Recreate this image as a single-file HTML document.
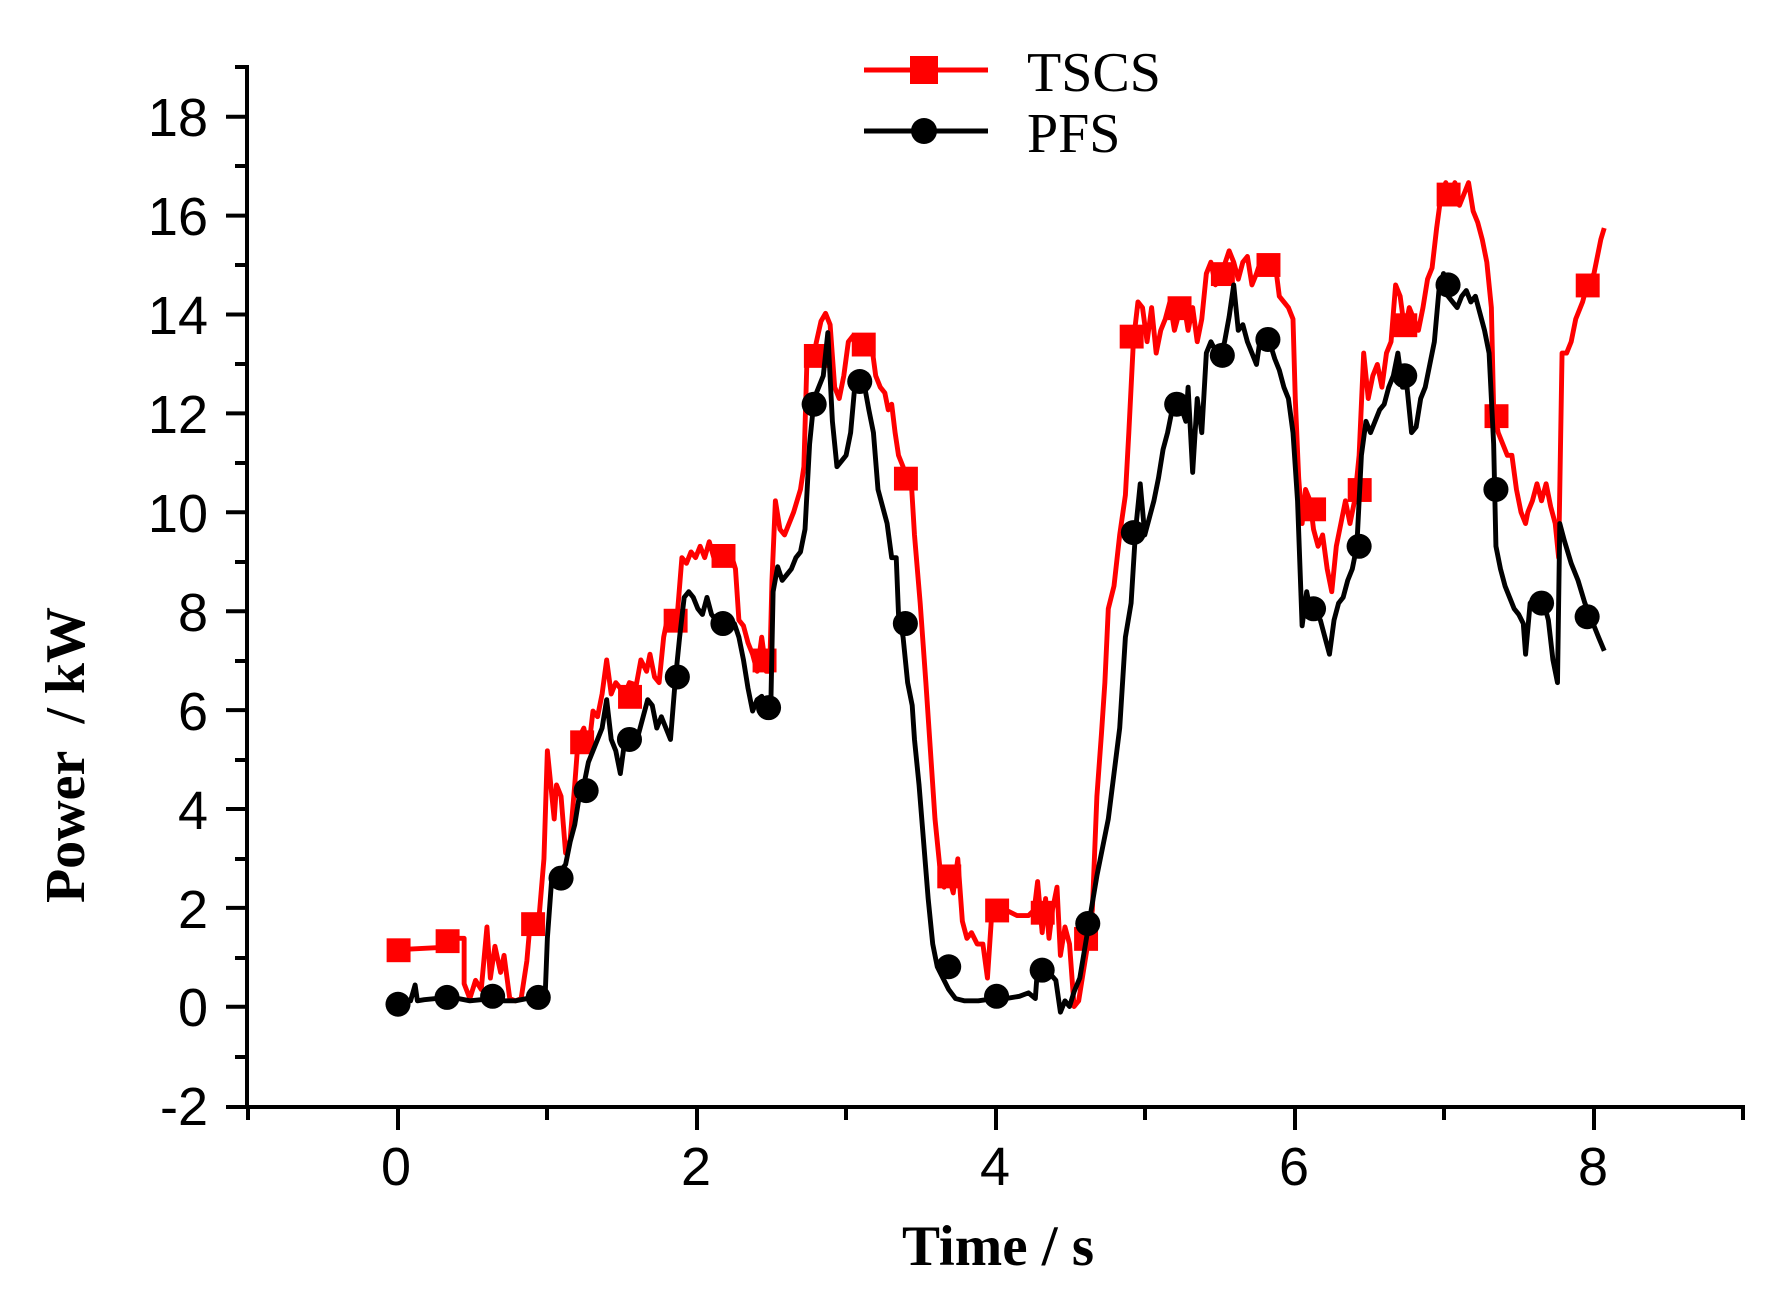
<!DOCTYPE html>
<html><head><meta charset="utf-8"><style>
html,body{margin:0;padding:0;background:#fff;}
svg{display:block;}
</style></head><body>
<svg width="1784" height="1303" viewBox="0 0 1784 1303" xmlns="http://www.w3.org/2000/svg">
<rect width="1784" height="1303" fill="#fff"/>
<g stroke="#000" stroke-width="4" fill="none">
<line x1="247" y1="65" x2="247" y2="1107"/>
<line x1="226" y1="1107" x2="1745" y2="1107"/>
<line x1="226" y1="116.7" x2="247" y2="116.7"/>
<line x1="226" y1="215.6" x2="247" y2="215.6"/>
<line x1="226" y1="314.5" x2="247" y2="314.5"/>
<line x1="226" y1="413.4" x2="247" y2="413.4"/>
<line x1="226" y1="512.3" x2="247" y2="512.3"/>
<line x1="226" y1="611.2" x2="247" y2="611.2"/>
<line x1="226" y1="710.1" x2="247" y2="710.1"/>
<line x1="226" y1="809" x2="247" y2="809"/>
<line x1="226" y1="907.9" x2="247" y2="907.9"/>
<line x1="226" y1="1006.8" x2="247" y2="1006.8"/>
<line x1="235" y1="67" x2="247" y2="67"/>
<line x1="235" y1="166" x2="247" y2="166"/>
<line x1="235" y1="265" x2="247" y2="265"/>
<line x1="235" y1="364" x2="247" y2="364"/>
<line x1="235" y1="463" x2="247" y2="463"/>
<line x1="235" y1="562" x2="247" y2="562"/>
<line x1="235" y1="661" x2="247" y2="661"/>
<line x1="235" y1="760" x2="247" y2="760"/>
<line x1="235" y1="859" x2="247" y2="859"/>
<line x1="235" y1="958" x2="247" y2="958"/>
<line x1="235" y1="1057" x2="247" y2="1057"/>
<line x1="248" y1="1107" x2="248" y2="1120"/>
<line x1="398" y1="1107" x2="398" y2="1130"/>
<line x1="547" y1="1107" x2="547" y2="1120"/>
<line x1="697" y1="1107" x2="697" y2="1130"/>
<line x1="846" y1="1107" x2="846" y2="1120"/>
<line x1="996" y1="1107" x2="996" y2="1130"/>
<line x1="1145" y1="1107" x2="1145" y2="1120"/>
<line x1="1295" y1="1107" x2="1295" y2="1130"/>
<line x1="1444" y1="1107" x2="1444" y2="1120"/>
<line x1="1594" y1="1107" x2="1594" y2="1130"/>
<line x1="1743" y1="1107" x2="1743" y2="1120"/>
</g>
<g font-family="Liberation Sans, sans-serif" font-size="54" fill="#000" text-anchor="end">
<text x="208" y="136">18</text>
<text x="208" y="235">16</text>
<text x="208" y="334">14</text>
<text x="208" y="433">12</text>
<text x="208" y="532">10</text>
<text x="208" y="631">8</text>
<text x="208" y="730">6</text>
<text x="208" y="829">4</text>
<text x="208" y="928">2</text>
<text x="208" y="1026">0</text>
<text x="208" y="1125">-2</text>
</g>
<g font-family="Liberation Sans, sans-serif" font-size="54" fill="#000" text-anchor="middle">
<text x="396" y="1185">0</text>
<text x="696" y="1185">2</text>
<text x="995" y="1185">4</text>
<text x="1294" y="1185">6</text>
<text x="1593" y="1185">8</text>
</g>
<text x="998" y="1265" font-family="Liberation Serif, serif" font-weight="bold" font-size="57" text-anchor="middle">Time / s</text>
<text transform="translate(84,755) rotate(-90)" font-family="Liberation Serif, serif" font-weight="bold" font-size="56" text-anchor="middle" xml:space="preserve">Power  / kW</text>
<line x1="864" y1="70" x2="988" y2="70" stroke="#f00" stroke-width="5"/>
<rect x="910" y="56" width="28" height="28" fill="#f00"/>
<text x="1027" y="91" font-family="Liberation Serif, serif" font-size="56">TSCS</text>
<line x1="864" y1="131" x2="988" y2="131" stroke="#000" stroke-width="5"/>
<circle cx="924" cy="131" r="13" fill="#000"/>
<text x="1027" y="152" font-family="Liberation Serif, serif" font-size="56">PFS</text>
<g transform="matrix(1.1401,0,0,1.1364,2.4,0.8)">
<polyline fill="none" stroke="#f00" stroke-width="4.3" stroke-linejoin="round" points="347,835 385,833 388,825 405,825 405,865 410,878 415,862 420,870 425,815 428,860 432,832 437,855 440,840 445,878 450,880 455,878 460,845 463,810 467,812 470,815 475,755 478,660 481,690 484,720 486,690 490,700 494,750 498,738 502,690 505,650 510,640 514,660 518,625 522,630 526,610 530,580 534,610 538,600 542,605 546,610 550,600 556,602 560,580 565,590 568,575 572,595 576,600 580,560 584,540 588,545 592,540 596,490 600,495 604,485 608,490 612,480 616,490 620,476 624,490 628,485 632,490 636,483 640,490 643,500 646,545 650,550 654,565 658,575 662,590 666,560 670,590 673,590 675,510 678,440 682,465 686,470 690,460 694,450 700,430 703,410 706,305 710,320 714,300 718,282 722,275 726,285 730,340 734,350 738,330 742,300 746,295 750,300 756,295 762,300 766,330 770,340 774,345 777,360 780,355 783,380 786,400 790,410 793,425 797,420 800,470 805,530 810,600 814,660 818,720 822,760 826,780 830,770 834,785 838,755 842,810 846,825 850,820 855,830 860,830 864,860 868,800 872,800 880,800 890,805 900,805 905,800 908,775 912,820 915,790 918,825 921,800 925,780 928,840 932,815 936,830 940,885 944,880 948,855 952,830 956,800 960,700 964,645 967,600 970,535 975,515 980,470 985,435 988,380 992,300 996,265 1000,270 1004,300 1008,270 1012,310 1016,290 1020,280 1024,265 1028,290 1032,275 1036,265 1040,290 1044,270 1048,300 1052,280 1056,240 1060,230 1064,250 1068,240 1072,232 1076,220 1080,230 1084,245 1088,230 1092,225 1096,250 1100,240 1104,228 1108,232 1112,230 1116,228 1120,260 1124,265 1128,270 1132,280 1134,350 1137,420 1140,460 1143,430 1147,440 1150,465 1154,480 1158,470 1162,500 1166,520 1170,480 1174,460 1178,440 1182,460 1186,440 1190,400 1194,310 1198,350 1202,330 1206,320 1210,340 1214,310 1218,300 1222,250 1226,260 1230,290 1234,270 1238,280 1242,290 1246,270 1250,245 1254,235 1258,200 1262,170 1266,160 1270,170 1274,160 1278,180 1282,170 1286,160 1290,185 1294,195 1298,210 1302,230 1306,270 1308,360 1312,380 1316,390 1320,400 1324,400 1328,430 1332,450 1336,460 1338,450 1342,440 1346,425 1350,440 1354,425 1358,445 1362,460 1365,490 1368,310 1372,310 1376,300 1380,280 1386,265 1390,250 1396,240 1402,210 1405,200"/>
<g fill="#f00">
<rect x="337" y="825" width="21" height="21"/><rect x="380" y="817" width="21" height="21"/><rect x="455" y="802" width="21" height="21"/><rect x="498" y="642" width="21" height="21"/><rect x="540" y="602" width="21" height="21"/><rect x="580" y="535" width="21" height="21"/><rect x="622" y="478" width="21" height="21"/><rect x="658" y="570" width="21" height="21"/><rect x="703" y="302" width="21" height="21"/><rect x="745" y="292" width="21" height="21"/><rect x="782" y="410" width="21" height="21"/><rect x="820" y="760" width="21" height="21"/><rect x="862" y="790" width="21" height="21"/><rect x="902" y="792" width="21" height="21"/><rect x="940" y="815" width="21" height="21"/><rect x="980" y="285" width="21" height="21"/><rect x="1022" y="260" width="21" height="21"/><rect x="1060" y="230" width="21" height="21"/><rect x="1100" y="222" width="21" height="21"/><rect x="1140" y="437" width="21" height="21"/><rect x="1180" y="420" width="21" height="21"/><rect x="1220" y="275" width="21" height="21"/><rect x="1258" y="160" width="21" height="21"/><rect x="1300" y="355" width="21" height="21"/><rect x="1380" y="240" width="21" height="21"/>
</g>
<polyline fill="none" stroke="#000" stroke-width="4.3" stroke-linejoin="round" points="347,885 352,880 358,880 362,866 364,880 370,879 380,878 390,877 400,878 410,880 420,879 430,878 440,880 450,880 460,878 470,878 476,877 478,825 482,770 486,772 490,765 494,760 498,740 502,725 506,700 510,690 514,670 518,660 522,650 526,640 530,615 534,650 538,660 542,680 546,650 550,655 554,648 558,645 562,630 566,615 570,620 574,640 578,630 582,640 586,650 590,600 594,560 598,525 602,520 606,525 610,535 614,540 618,525 622,540 626,545 630,545 634,540 638,550 642,548 646,560 650,580 654,605 658,625 662,615 666,612 670,622 674,620 676,520 680,498 684,510 688,505 692,500 696,490 700,485 704,465 708,390 712,350 716,340 720,330 724,292 728,370 732,410 736,405 740,400 744,380 748,335 752,330 756,338 760,360 764,380 768,430 772,445 776,460 780,490 784,490 786,540 790,560 794,600 798,620 800,650 804,690 808,740 812,790 816,830 820,850 825,860 830,870 836,878 844,880 856,880 870,878 880,878 892,876 900,873 906,878 908,850 912,855 918,855 924,862 928,890 932,880 936,885 940,872 945,860 950,830 955,800 960,770 965,745 970,720 975,680 980,640 985,560 990,530 994,465 998,425 1002,470 1006,455 1010,440 1014,420 1018,395 1022,380 1026,360 1030,352 1034,358 1038,370 1040,340 1044,415 1048,350 1052,380 1056,310 1060,300 1064,308 1068,312 1072,300 1076,278 1080,250 1084,290 1088,285 1092,300 1096,310 1100,320 1104,292 1108,295 1112,302 1116,315 1120,325 1124,340 1128,350 1132,380 1136,440 1140,550 1144,520 1148,540 1152,540 1156,545 1160,560 1164,575 1168,545 1172,530 1176,525 1180,510 1184,500 1188,480 1192,400 1196,370 1200,380 1204,370 1208,360 1212,355 1216,340 1220,330 1224,310 1228,340 1232,340 1236,380 1240,375 1244,350 1248,340 1252,320 1256,300 1260,255 1264,240 1268,260 1272,265 1276,270 1280,260 1284,255 1288,265 1292,260 1296,275 1300,290 1304,310 1308,390 1310,480 1314,500 1318,515 1322,525 1326,535 1330,540 1334,548 1336,575 1340,530 1344,525 1348,530 1352,530 1356,545 1360,580 1364,600 1366,460 1370,475 1376,495 1382,510 1388,530 1394,545 1400,560 1405,572"/>
<g fill="#000">
<circle cx="347" cy="883" r="11"/><circle cx="390" cy="877" r="11"/><circle cx="430" cy="876" r="11"/><circle cx="470" cy="877" r="11"/><circle cx="490" cy="772" r="11"/><circle cx="512" cy="695" r="11"/><circle cx="550" cy="650" r="11"/><circle cx="592" cy="595" r="11"/><circle cx="632" cy="548" r="11"/><circle cx="672" cy="622" r="11"/><circle cx="712" cy="355" r="11"/><circle cx="752" cy="335" r="11"/><circle cx="792" cy="548" r="11"/><circle cx="830" cy="850" r="11"/><circle cx="872" cy="876" r="11"/><circle cx="912" cy="853" r="11"/><circle cx="952" cy="812" r="11"/><circle cx="992" cy="468" r="11"/><circle cx="1030" cy="355" r="11"/><circle cx="1070" cy="312" r="11"/><circle cx="1110" cy="298" r="11"/><circle cx="1150" cy="535" r="11"/><circle cx="1190" cy="480" r="11"/><circle cx="1230" cy="330" r="11"/><circle cx="1268" cy="250" r="11"/><circle cx="1310" cy="430" r="11"/><circle cx="1350" cy="530" r="11"/><circle cx="1390" cy="542" r="11"/>
</g>
</g>
</svg>
</body></html>
